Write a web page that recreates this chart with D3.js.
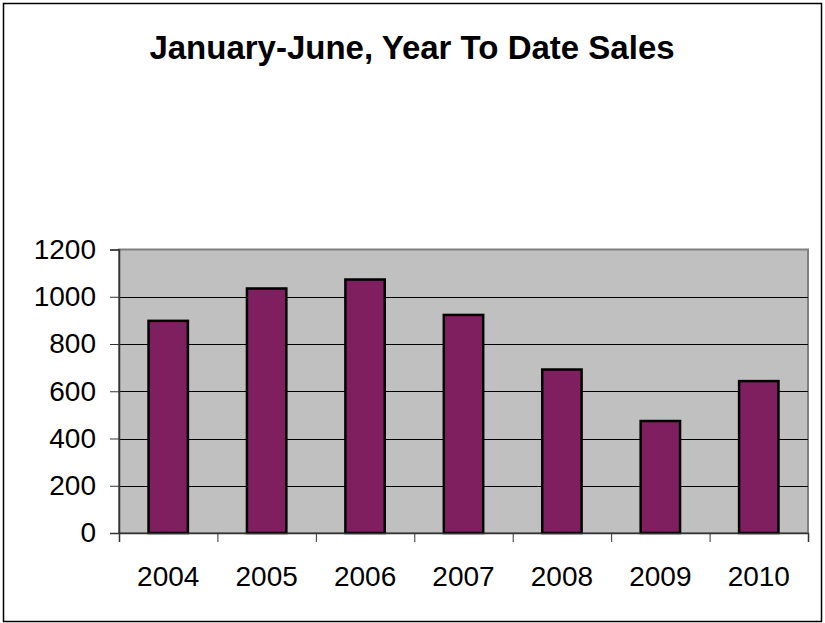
<!DOCTYPE html>
<html>
<head>
<meta charset="utf-8">
<script src="https://cdn.jsdelivr.net/npm/d3@7"></script>
<style>
  body { margin: 0; background: #fff; }
  svg text { font-family: "Liberation Sans", Arial, sans-serif; }
</style>
</head>
<body>
<div id="chart"></div>
<script>
const years = ["2004", "2005", "2006", "2007", "2008", "2009", "2010"];
const sales = [898, 1035, 1073, 923, 692, 474, 643];
const yTicks = [0, 200, 400, 600, 800, 1000, 1200];
const title = "January-June, Year To Date Sales";

const width = 825, height = 623;
const plot = { left: 119, right: 808, top: 249.5, bottom: 533 };

const svg = d3.select('#chart')
              .append('svg')
              .attr('width', width)
              .attr('height', height);

// outer frame
svg.append('rect')
   .attr('x', 3.5).attr('y', 3.5)
   .attr('width', 818).attr('height', 618)
   .attr('fill', '#fff')
   .attr('stroke', '#000')
   .attr('stroke-width', 1.5);

svg.append('text')
   .attr('x', 412)
   .attr('y', 59)
   .attr('text-anchor', 'middle')
   .style('font-size', '33px')
   .style('font-weight', 'bold')
   .text(title);

const xScale = d3.scaleBand()
                 .domain(years)
                 .range([plot.left, plot.right])
                 .paddingInner(0.6)
                 .paddingOuter(0.3);

const xEdges = d3.scaleLinear()
                 .domain([0, years.length])
                 .range([plot.left, plot.right]);

const yScale = d3.scaleLinear()
                 .domain([0, 1200])
                 .range([plot.bottom, plot.top]);

// plot background
svg.append('rect')
   .attr('x', plot.left).attr('y', plot.top)
   .attr('width', plot.right - plot.left)
   .attr('height', plot.bottom - plot.top)
   .attr('fill', '#c0c0c0')
   .attr('stroke', '#808080')
   .attr('stroke-width', 2);

// gridlines
svg.append('g')
   .selectAll('line')
   .data(yTicks.filter(d => d > 0 && d < 1200))
   .enter()
   .append('line')
   .attr('x1', plot.left).attr('x2', plot.right)
   .attr('y1', d => Math.round(yScale(d)) + 0.5)
   .attr('y2', d => Math.round(yScale(d)) + 0.5)
   .attr('stroke', '#000')
   .attr('stroke-width', 1);

// bars
svg.append('g')
   .selectAll('rect')
   .data(years)
   .enter()
   .append('rect')
   .attr('x', d => xScale(d))
   .attr('y', (d, i) => yScale(sales[i]))
   .attr('width', xScale.bandwidth())
   .attr('height', (d, i) => plot.bottom - yScale(sales[i]))
   .attr('fill', '#7f1f5f')
   .attr('stroke', '#000')
   .attr('stroke-width', 2.5);

// y axis
const yAxis = d3.axisLeft(yScale)
                .tickValues(yTicks)
                .tickSize(9)
                .tickPadding(14)
                .tickFormat(d3.format('d'));

svg.append('g')
   .attr('transform', `translate(${plot.left}, 0)`)
   .call(yAxis)
   .call(g => g.select('.domain').attr('stroke', '#333').attr('stroke-width', 1.5))
   .call(g => g.selectAll('.tick line').attr('stroke', '#333'))
   .call(g => g.selectAll('.tick text')
               .attr('fill', '#000')
               .style('font-size', '28px')
               .style('font-family', '"Liberation Sans", Arial, sans-serif'));

// x axis: ticks on category edges
const xAxis = d3.axisBottom(xEdges)
                .tickValues(d3.range(years.length + 1))
                .tickSize(9)
                .tickFormat('');

svg.append('g')
   .attr('transform', `translate(0, ${plot.bottom})`)
   .call(xAxis)
   .call(g => g.select('.domain').attr('stroke', '#333').attr('stroke-width', 1.5))
   .call(g => g.selectAll('.tick line').attr('stroke', '#333'));

svg.append('g')
   .selectAll('text')
   .data(years)
   .enter()
   .append('text')
   .attr('x', d => xScale(d) + xScale.bandwidth() / 2)
   .attr('y', 586)
   .attr('text-anchor', 'middle')
   .style('font-size', '28px')
   .text(d => d);
</script>
</body>
</html>
